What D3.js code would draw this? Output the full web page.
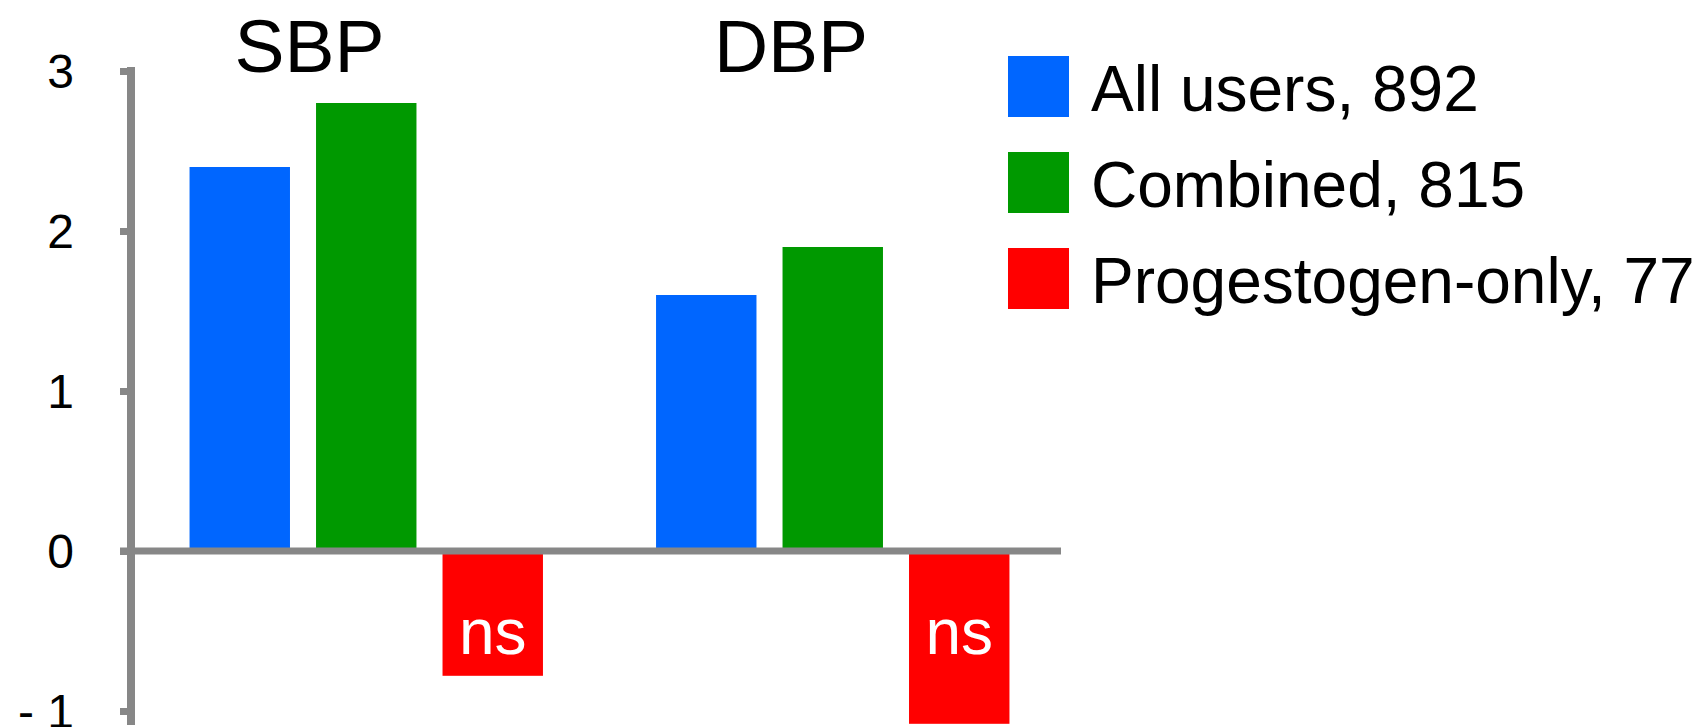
<!DOCTYPE html>
<html>
<head>
<meta charset="utf-8">
<script src="https://cdn.jsdelivr.net/npm/d3@7"></script>
<style>
  html, body { margin: 0; padding: 0; background: #fff; }
  svg { display: block; font-family: Arial, "Liberation Sans", sans-serif; }
</style>
</head>
<body>
<svg id="chart" width="1702" height="727"></svg>
<script>
// Blood pressure change by contraceptive type
const categories = ["SBP", "DBP"];
const seriesNames = ["All users, 892", "Combined, 815", "Progestogen-only, 77"];
const seriesKeys = ["all", "combined", "progestogen"];
const allUsers = [2.4, 1.6];
const combined = [2.8, 1.9];
const progestogenOnly = [-0.78, -1.08];
const significance = ["", "", "ns"]; // note drawn on the progestogen-only bars
const tickValues = [-1, 0, 1, 2, 3];
const tickLabels = ["- 1", "0", "1", "2", "3"];
const colors = ["#0066ff", "#009900", "#ff0000"];

const seriesValues = [allUsers, combined, progestogenOnly];
const rows = [];
categories.forEach((cat, ci) => {
  seriesKeys.forEach((key, si) => {
    rows.push({ cat, key, si, value: seriesValues[si][ci], note: significance[si] });
  });
});

const svg = d3.select("#chart");
const axisGrey = "#878787";

const y = d3.scaleLinear().domain([-1, 3]).range([711, 71]);
const x0 = d3.scaleBand().domain(categories).range([133, 1066]);
const x1 = d3.scaleBand().domain(seriesKeys).range([0, x0.bandwidth()])
  .paddingInner(0.206).paddingOuter(0.447);

// bars
svg.append("g").selectAll("rect").data(rows).join("rect")
  .attr("x", d => x0(d.cat) + x1(d.key))
  .attr("width", x1.bandwidth())
  .attr("y", d => y(Math.max(0, d.value)))
  .attr("height", d => Math.abs(y(d.value) - y(0)))
  .attr("fill", d => colors[d.si]);

// "ns" notes inside the negative bars
svg.append("g").selectAll("text").data(rows.filter(d => d.note)).join("text")
  .attr("x", d => x0(d.cat) + x1(d.key) + x1.bandwidth() / 2)
  .attr("y", y(0) + 103)
  .attr("text-anchor", "middle")
  .attr("font-size", 64)
  .attr("fill", "#fff")
  .text(d => d.note);

// y axis
const yAxis = d3.axisLeft(y)
  .tickValues(tickValues)
  .tickSize(11)
  .tickPadding(0)
  .tickFormat((d, i) => tickLabels[i]);
const gy = svg.append("g").attr("transform", "translate(131,0)").call(yAxis);
gy.select(".domain").remove();
gy.selectAll(".tick line").attr("stroke", axisGrey).attr("stroke-width", 7).attr("x2", -11).attr("x1", 0);
gy.selectAll(".tick text")
  .attr("x", -57)
  .attr("dy", "0.35em")
  .attr("font-size", 48)
  .attr("font-family", "Arial, 'Liberation Sans', sans-serif")
  .attr("fill", "#000");
gy.append("line")
  .attr("x1", 0).attr("x2", 0)
  .attr("y1", y(3) - 4).attr("y2", 725)
  .attr("stroke", axisGrey).attr("stroke-width", 8);

// zero baseline
svg.append("line")
  .attr("x1", 120).attr("x2", 1061)
  .attr("y1", y(0)).attr("y2", y(0))
  .attr("stroke", axisGrey).attr("stroke-width", 7);

// group titles
const titleX = { SBP: 309.5, DBP: 791 };
svg.append("g").selectAll("text").data(categories).join("text")
  .attr("x", d => titleX[d])
  .attr("y", 72)
  .attr("text-anchor", "middle")
  .attr("font-size", 75)
  .attr("fill", "#000")
  .text(d => d);

// legend
const legend = svg.append("g").attr("transform", "translate(1008,56)");
const items = legend.selectAll("g").data(seriesNames).join("g")
  .attr("transform", (d, i) => `translate(0,${i * 96})`);
items.append("rect")
  .attr("width", 61).attr("height", 61)
  .attr("fill", (d, i) => colors[i]);
items.append("text")
  .attr("x", 83).attr("y", 55)
  .attr("font-size", 64)
  .attr("fill", "#000")
  .text(d => d);
</script>
</body>
</html>
